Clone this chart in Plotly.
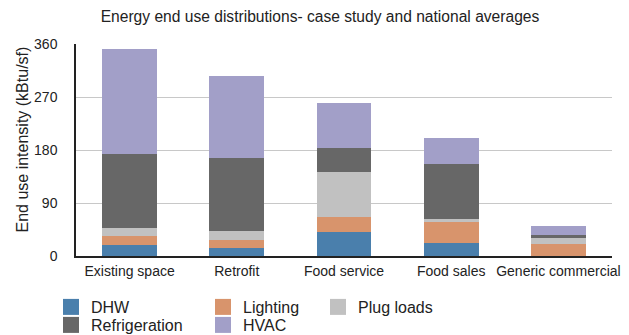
import plotly.graph_objects as go

# Building types on the x axis
categories = ["Existing space", "Retrofit", "Food service", "Food sales", "Generic commercial"]

# End use intensity by end use (kBtu/sf), stacked bottom to top
dhw = [19, 14, 41, 22, 0]
lighting = [15, 14, 25, 37, 20]
plug_loads = [14, 15, 76, 3, 11]
refrigeration = [125, 124, 42, 95, 4.5]
hvac = [178, 139, 76, 44, 15]

y_ticks = [0, 90, 180, 270, 360]

# name, values, colour, legend id
series = [
    ("DHW", dhw, "#4a7fac", "legend"),
    ("Lighting", lighting, "#d8946c", "legend2"),
    ("Plug loads", plug_loads, "#c1c1c1", "legend3"),
    ("Refrigeration", refrigeration, "#676767", "legend4"),
    ("HVAC", hvac, "#a29fc8", "legend5"),
]

# legend entry positions (left edge, top edge) in pixels
legend_pos = {
    "legend": (51, 290),
    "legend2": (203, 290),
    "legend3": (318, 290),
    "legend4": (51, 308),
    "legend5": (203, 308),
}

FONT = "Liberation Sans, Arial, Helvetica, sans-serif"
W, H = 629, 335

fig = go.Figure()
for name, vals, color, leg in series:
    fig.add_trace(go.Bar(
        x=categories, y=vals, name=name,
        marker=dict(color=color, line=dict(width=0)),
        showlegend=False,
    ))
    # legend entry with a larger square swatch, kept on a hidden axis pair
    fig.add_trace(go.Scatter(
        x=[0], y=[None], mode="markers", name=name,
        marker=dict(symbol="square", size=16, color=color),
        xaxis="x2", yaxis="y2",
        legend=leg, showlegend=True, hoverinfo="skip",
    ))

legend_style = dict(
    orientation="v", traceorder="normal",
    xref="container", yref="container",
    xanchor="left", yanchor="top",
    font=dict(family=FONT, size=16, color="#222222"),
    bgcolor="rgba(0,0,0,0)", borderwidth=0,
    itemclick=False, itemdoubleclick=False,
)
legends = {
    key: dict(x=px / W, y=1 - py / H, **legend_style)
    for key, (px, py) in legend_pos.items()
}

fig.update_layout(
    width=W, height=H,
    margin=dict(l=76, r=17, t=44, b=79, autoexpand=False),
    paper_bgcolor="white", plot_bgcolor="white",
    barmode="stack", bargap=0.49,
    font=dict(family=FONT, size=14, color="#222222"),
    title=dict(
        text="Energy end use distributions- case study and national averages",
        x=320 / W, xanchor="center", xref="container",
        y=1 - 17 / H, yanchor="middle", yref="container",
        font=dict(family=FONT, size=15.6, color="#222222"),
    ),
    xaxis=dict(
        type="category",
        showline=True, linecolor="#222222", linewidth=1.5,
        ticks="", showgrid=False, ticklabelstandoff=1,
        tickfont=dict(family=FONT, size=14, color="#222222"),
    ),
    yaxis=dict(
        range=[0, 360], tickvals=y_ticks, ticktext=[str(v) for v in y_ticks],
        showline=True, linecolor="#222222", linewidth=1.5,
        showgrid=True, gridcolor="#c8c8c8", gridwidth=1,
        ticks="", ticklabelstandoff=14, zeroline=False,
        tickfont=dict(family=FONT, size=14, color="#222222"),
    ),
    xaxis2=dict(overlaying="x", visible=False, range=[0, 1]),
    yaxis2=dict(overlaying="y", visible=False, range=[0, 1]),
    annotations=[dict(
        text="End use intensity (kBtu/sf)", textangle=-90,
        xref="paper", yref="paper",
        x=(22 - 76) / 536, y=(256 - 139.5) / 212,
        xanchor="center", yanchor="middle", showarrow=False,
        font=dict(family=FONT, size=16, color="#222222"),
    )],
    showlegend=True,
    **legends,
)

fig.write_html("out.html")
